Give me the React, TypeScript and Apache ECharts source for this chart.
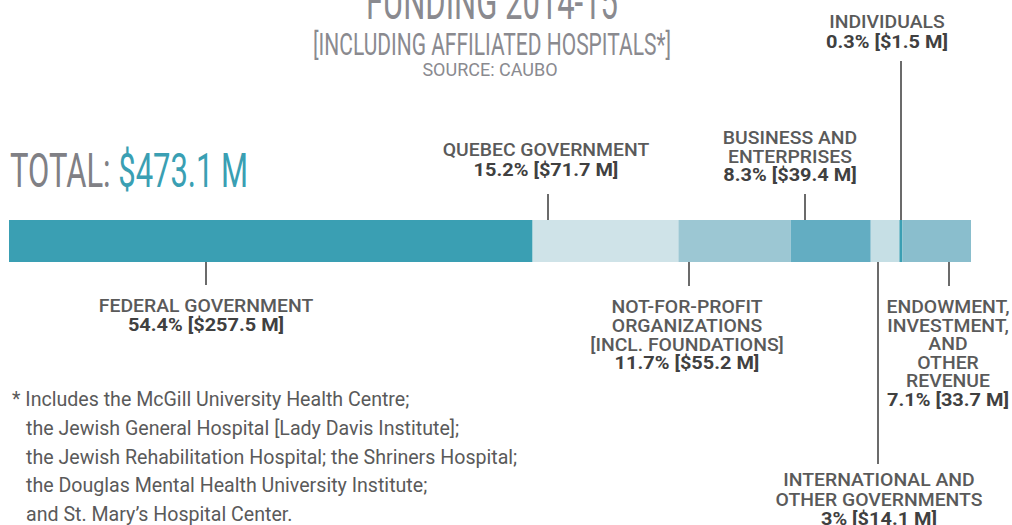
import React, { useEffect, useRef } from "react";
import * as echarts from "echarts";

// ---- Data ----
const categories = ["Funding"];
const sourceNames = [
  "Federal Government",
  "Quebec Government",
  "Not-for-profit Organizations",
  "Business and Enterprises",
  "International and Other Governments",
  "Individuals",
  "Endowment, Investment, and Other Revenue",
];
const amountsM = [257.5, 71.7, 55.2, 39.4, 14.1, 1.5, 33.7];
const percentLabels = ["54.4%", "15.2%", "11.7%", "8.3%", "3%", "0.3%", "7.1%"];
const amountLabels = ["$257.5 M", "$71.7 M", "$55.2 M", "$39.4 M", "$14.1 M", "$1.5 M", "33.7 M"];
const nameLines = [
  ["FEDERAL GOVERNMENT"],
  ["QUEBEC GOVERNMENT"],
  ["NOT-FOR-PROFIT", "ORGANIZATIONS", "[INCL. FOUNDATIONS]"],
  ["BUSINESS AND", "ENTERPRISES"],
  ["INTERNATIONAL AND", "OTHER GOVERNMENTS"],
  ["INDIVIDUALS"],
  ["ENDOWMENT,", "INVESTMENT,", "AND", "OTHER", "REVENUE"],
];
// where each leader line meets the bar, in $M along the axis
const leaderAnchorsM = [96.9, 265.1, 334.4, 391.5, 427.4, 438.7, 462.3];
const totalM = 473.1;
const titleText = "FUNDING 2014-15";
const subtitleText = "[INCLUDING AFFILIATED HOSPITALS*]";
const sourceText = "SOURCE: CAUBO";
const footnoteLines = [
  "* Includes the McGill University Health Centre;",
  "the Jewish General Hospital [Lady Davis Institute];",
  "the Jewish Rehabilitation Hospital; the Shriners Hospital;",
  "the Douglas Mental Health University Institute;",
  "and St. Mary\u2019s Hospital Center.",
];

// ---- Styles / layout ----
const colors = ["#3a9fb3", "#cfe3e8", "#9cc7d3", "#63adc2", "#c6dfe5", "#3a9fb3", "#8abecd"];
// side, line end y, text dx, first text line cap-center y, pitch
const labelLayout = [
  { side: "bottom", end: 285, dx: 0, y0: 306, pitch: 18.5 },
  { side: "top", end: 194, dx: -2, y0: 150, pitch: 19.5 },
  { side: "bottom", end: 286, dx: -2, y0: 306.5, pitch: 18.8 },
  { side: "top", end: 194, dx: -15, y0: 138, pitch: 18.5 },
  { side: "bottom", end: 464, dx: 1, y0: 480, pitch: 19.5 },
  { side: "top", end: 61, dx: -14, y0: 22, pitch: 20 },
  { side: "bottom", end: 286, dx: -1, y0: 306.5, pitch: 18.6 },
];
const FONT = "Roboto, 'Noto Sans', sans-serif";
const GRID_TOP = 220;
const GRID_H = 42;

export default function App() {
  const ref = useRef<HTMLDivElement>(null);
  useEffect(() => {
    const chart = echarts.init(ref.current!, undefined, { renderer: "svg" });
    const series = amountsM.map((v, i) => ({
      name: sourceNames[i],
      type: "bar",
      stack: "total",
      barWidth: GRID_H,
      data: [v],
      itemStyle: { color: colors[i] },
      silent: true,
    }));
    chart.setOption({
      animation: false,
      grid: { left: 9, width: 962, top: GRID_TOP, height: GRID_H },
      xAxis: { type: "value", min: 0, max: totalM, show: false },
      yAxis: { type: "category", data: categories, show: false },
      series,
    });

    const graphics: any[] = [];
    const barBottom = GRID_TOP + GRID_H;
    leaderAnchorsM.forEach((a, i) => {
      const x = Math.round(chart.convertToPixel({ xAxisIndex: 0 }, a) as number);
      const L = labelLayout[i];
      const y1 = L.side === "top" ? L.end : barBottom;
      const y2 = L.side === "top" ? GRID_TOP : L.end;
      graphics.push({
        type: "line",
        shape: { x1: x, y1, x2: x, y2 },
        style: { stroke: "#6b6b6b", lineWidth: 2 },
        z: 10,
      });
      const lines = nameLines[i];
      lines.forEach((t, k) => {
        graphics.push({
          type: "text",
          x: x + L.dx,
          y: L.y0 + k * L.pitch,
          scaleX: 1.02,
          style: {
            text: t,
            fill: "#5a5a5a",
            fontFamily: FONT,
            fontSize: 19,
            fontWeight: 500,
            textAlign: "center",
            textVerticalAlign: "middle",
          },
        });
      });
      graphics.push({
        type: "text",
        x: x + L.dx,
        y: L.y0 + lines.length * L.pitch,
        scaleX: 1.05,
        style: {
          text: `${percentLabels[i]} [${amountLabels[i]}]`,
          fill: "#404040",
          fontFamily: FONT,
          fontSize: 19,
          fontWeight: "bold",
          textAlign: "center",
          textVerticalAlign: "middle",
        },
      });
    });

    // Titles
    graphics.push({
      type: "text", x: 492, y: 2, scaleX: 0.62,
      style: { text: titleText, fill: "#8a8a8f", fontFamily: FONT, fontSize: 50, textAlign: "center", textVerticalAlign: "middle" },
    });
    graphics.push({
      type: "text", x: 492, y: 44, scaleX: 0.656,
      style: { text: subtitleText, fill: "#8a8a8f", fontFamily: FONT, fontSize: 32, textAlign: "center", textVerticalAlign: "middle" },
    });
    graphics.push({
      type: "text", x: 490, y: 69,
      style: { text: sourceText, fill: "#8a8a8f", fontFamily: FONT, fontSize: 18, textAlign: "center", textVerticalAlign: "middle" },
    });
    graphics.push({
      type: "text", x: 10, y: 171, scaleX: 0.645,
      style: {
        text: "{a|TOTAL: }{b|$" + totalM.toFixed(1) + " M}",
        fontFamily: FONT,
        fontSize: 48,
        textAlign: "left",
        textVerticalAlign: "middle",
        rich: {
          a: { fill: "#808085", fontSize: 48, fontFamily: FONT },
          b: { fill: "#3a9fb3", fontSize: 48, fontFamily: FONT },
        },
      },
    });
    footnoteLines.forEach((t, k) => {
      graphics.push({
        type: "text", x: k === 0 ? 12 : 26, y: 399.5 + k * 28.75, scaleX: 0.98,
        style: { text: t, fill: "#5a5a5a", fontFamily: FONT, fontSize: 20, textAlign: "left", textVerticalAlign: "middle" },
      });
    });
    chart.setOption({ graphic: { elements: graphics } });
    return () => chart.dispose();
  }, []);
  return (
    <div
      ref={ref}
      style={{ position: "fixed", left: 0, top: 0, width: 1012, height: 525, background: "#fff" }}
    />
  );
}
